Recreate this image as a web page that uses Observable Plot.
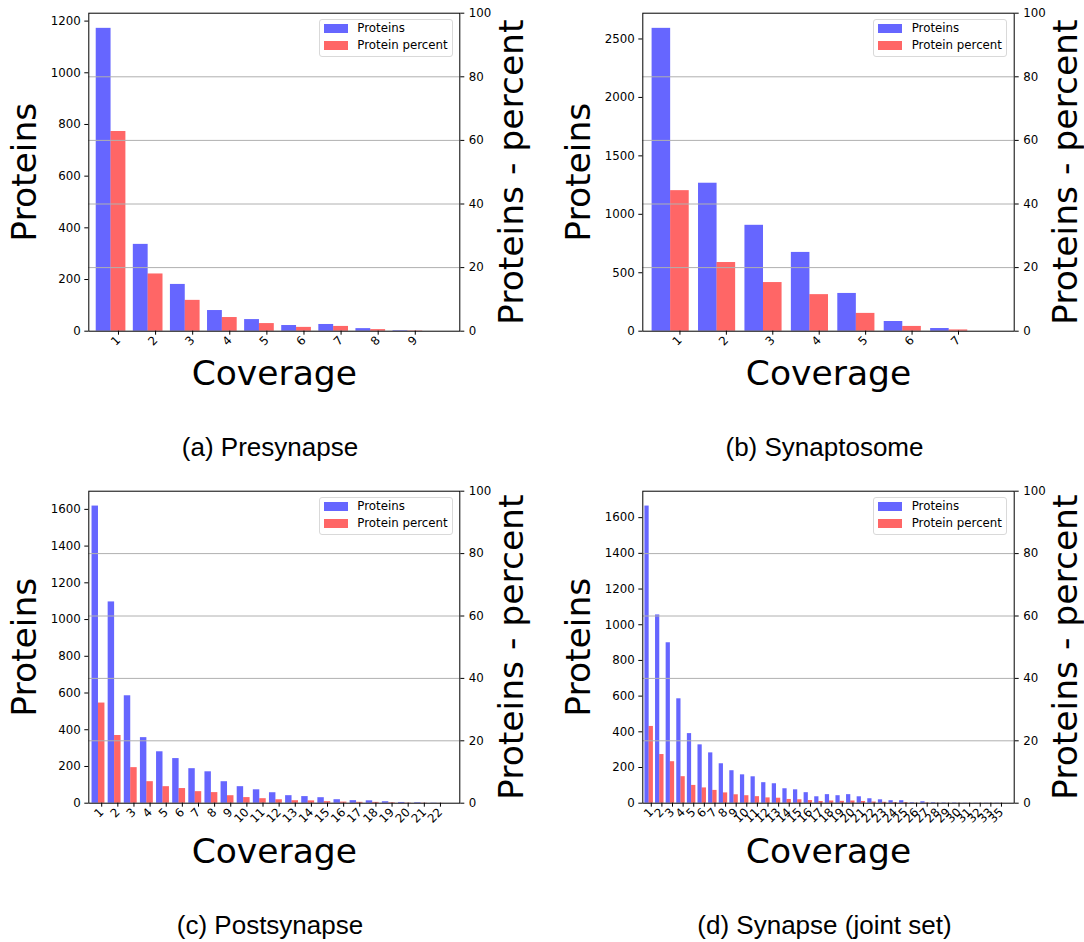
<!DOCTYPE html>
<html><head><meta charset="utf-8">
<script src="https://cdn.jsdelivr.net/npm/d3@7"></script>
<script src="https://cdn.jsdelivr.net/npm/@observablehq/plot@0.6"></script>
<style>
body{margin:0;background:#fff;}
#root{position:relative;width:1084px;height:942px;overflow:hidden;font-family:"DejaVu Sans";background:#fff;}
.panel{position:absolute;width:542px;height:400px;}
.panel svg{position:absolute;left:0;top:0;max-width:none;}
.legend{position:absolute;width:132px;height:36px;border:1px solid #d9d9d9;border-radius:3px;background:rgba(255,255,255,0.8);font-family:"DejaVu Sans";font-size:11.8px;color:#000;}
.legend .sw{position:absolute;left:4px;width:24px;height:8.7px;}
.legend span{position:absolute;left:37.3px;line-height:11.8px;white-space:nowrap;}
.caption{position:absolute;width:542px;text-align:center;font-family:"Liberation Sans";font-size:26px;line-height:26px;color:#000;white-space:nowrap;}
</style>
</head><body>
<div id="root"></div>
<script>
// ---- data ----
const presynLabels = ["1","2","3","4","5","6","7","8","9"];
const presynProteins = [1172, 336, 181, 80, 45, 22, 26, 10, 2];
const presynPercent = [62.8, 18.0, 9.7, 4.3, 2.4, 1.2, 1.5, 0.5, 0.1];

const synaptoLabels = ["1","2","3","4","5","6","7"];
const synaptoProteins = [2591, 1266, 906, 674, 323, 83, 23];
const synaptoPercent = [44.2, 21.6, 15.3, 11.5, 5.6, 1.5, 0.4];

const postsynLabels = ["1","2","3","4","5","6","7","8","9","10","11","12","13","14","15","16","17","18","19","20","21","22"];
const postsynProteins = [1618, 1096, 585, 357, 280, 243, 188, 171, 117, 90, 73, 57, 41, 36, 30, 19, 14, 13, 8, 4, 3, 1];
const postsynPercent = [32.1, 21.7, 11.4, 6.9, 5.3, 4.7, 3.7, 3.4, 2.4, 1.8, 1.45, 1.1, 0.8, 0.75, 0.5, 0.35, 0.28, 0.26, 0.16, 0.08, 0.06, 0.02];

const jointLabels = ["1","2","3","4","5","6","7","8","9","10","11","12","13","14","15","16","17","18","19","20","21","22","23","24","25","26","27","28","29","30","31","32","33","35"];
const jointProteins = [1665, 1055, 899, 585, 390, 327, 282, 221, 182, 159, 148, 115, 109, 81, 75, 59, 36, 48, 42, 48, 36, 25, 19, 14, 14, 3, 8, 3, 2, 2, 1, 1, 1, 1];
const jointPercent = [24.6, 15.6, 13.3, 8.5, 5.7, 4.9, 4.1, 3.3, 2.7, 2.4, 2.1, 1.7, 1.6, 1.2, 1.1, 0.85, 0.55, 0.7, 0.6, 0.7, 0.55, 0.37, 0.28, 0.2, 0.2, 0.05, 0.12, 0.05, 0.03, 0.03, 0.02, 0.02, 0.02, 0.02];

const percentTicks = [0, 20, 40, 60, 80, 100];
const gridTicks = [20, 40, 60, 80];
const legendNames = ["Proteins", "Protein percent"];

const panels = [
  {labels: presynLabels, proteins: presynProteins, percent: presynPercent, yStep: 200, caption: "(a) Presynapse",
   left: 0, top: 0, mL: 88.3, mR: 82.7, frameH: 318, covDy: 42.9, capX: 270, capTop: 434},
  {labels: synaptoLabels, proteins: synaptoProteins, percent: synaptoPercent, yStep: 500, caption: "(b) Synaptosome",
   left: 542, top: 0, mL: 100.3, mR: 70.3, frameH: 318, covDy: 42.9, capX: 824.5, capTop: 434},
  {labels: postsynLabels, proteins: postsynProteins, percent: postsynPercent, yStep: 200, caption: "(c) Postsynapse",
   left: 0, top: 478, mL: 88.3, mR: 82.7, frameH: 312, covDy: 48.9, capX: 270, capTop: 912},
  {labels: jointLabels, proteins: jointProteins, percent: jointPercent, yStep: 200, caption: "(d) Synapse (joint set)",
   left: 542, top: 478, mL: 100.3, mR: 70.3, frameH: 312, covDy: 48.9, capX: 824.5, capTop: 912}
];

const root = document.getElementById("root");
const W = 542, H = 400, mT = 12.7;
const intFmt = d3.format("d");

for (const p of panels) {
  const n = p.labels.length;
  const rows = p.labels.map((l, k) => ({i: k + 1, label: l, proteins: p.proteins[k], percent: p.percent[k]}));
  const xDomain = [0.2, n + 1.2];
  const ymax = d3.max(p.proteins) * 1.05;
  const common = {
    width: W, height: H, marginLeft: p.mL, marginRight: p.mR, marginTop: mT, marginBottom: H - mT - p.frameH,
    style: {background: "transparent", fontFamily: "DejaVu Sans", fontSize: "11.8px", color: "black", overflow: "visible"}
  };
  const base = Plot.plot({
    ...common,
    x: {domain: xDomain, axis: null},
    y: {domain: [0, ymax]},
    marks: [
      Plot.rectY(rows, {x1: d => d.i - 0.6, x2: d => d.i - 0.2, y1: 0, y2: "proteins", fill: "blue", fillOpacity: 0.6}),
      Plot.axisY({ticks: d3.range(0, ymax, p.yStep), tickFormat: intFmt, tickSize: 4, tickPadding: 4, label: null})
    ]
  });
  const over = Plot.plot({
    ...common,
    x: {domain: xDomain},
    y: {domain: [0, 100]},
    marks: [
      Plot.rectY(rows, {x1: d => d.i - 0.2, x2: d => d.i + 0.2, y1: 0, y2: "percent", fill: "red", fillOpacity: 0.6}),
      Plot.gridY({ticks: gridTicks, stroke: "#b0b0b0", strokeOpacity: 1, strokeWidth: 1}),
      Plot.frame({stroke: "black", strokeWidth: 1}),
      Plot.axisY({anchor: "right", ticks: percentTicks, tickFormat: intFmt, tickSize: 4, tickPadding: 5, label: null}),
      Plot.axisX({ticks: rows.map(d => d.i), tickFormat: i => p.labels[i - 1], tickRotate: -45, tickSize: 4, tickPadding: 3, label: null}),
      Plot.text(["Proteins"], {frameAnchor: "left", rotate: -90, dx: -64.2, fontSize: 34.5, textAnchor: "middle", lineAnchor: "middle"}),
      Plot.text(["Proteins - percent"], {frameAnchor: "right", rotate: -90, dx: 51.7, fontSize: 34.5, textAnchor: "middle", lineAnchor: "middle"}),
      Plot.text(["Coverage"], {frameAnchor: "bottom", dy: p.covDy, fontSize: 34.5, textAnchor: "middle", lineAnchor: "middle"})
    ]
  });
  const div = document.createElement("div");
  div.className = "panel";
  div.style.left = p.left + "px";
  div.style.top = p.top + "px";
  div.appendChild(base);
  div.appendChild(over);

  const leg = document.createElement("div");
  leg.className = "legend";
  leg.style.left = (W - p.mR - 140.3) + "px";
  leg.style.top = (mT + 6.3) + "px";
  leg.innerHTML =
    `<div class="sw" style="top:4px;background:rgba(0,0,255,0.6)"></div>` +
    `<div class="sw" style="top:21.3px;background:rgba(255,0,0,0.6)"></div>` +
    `<span style="top:2.7px">${legendNames[0]}</span>` +
    `<span style="top:20px">${legendNames[1]}</span>`;
  div.appendChild(leg);
  root.appendChild(div);

  const cap = document.createElement("div");
  cap.className = "caption";
  cap.style.left = (p.capX - 271) + "px";
  cap.style.top = p.capTop + "px";
  cap.textContent = p.caption;
  root.appendChild(cap);
}
</script>
</body></html>
